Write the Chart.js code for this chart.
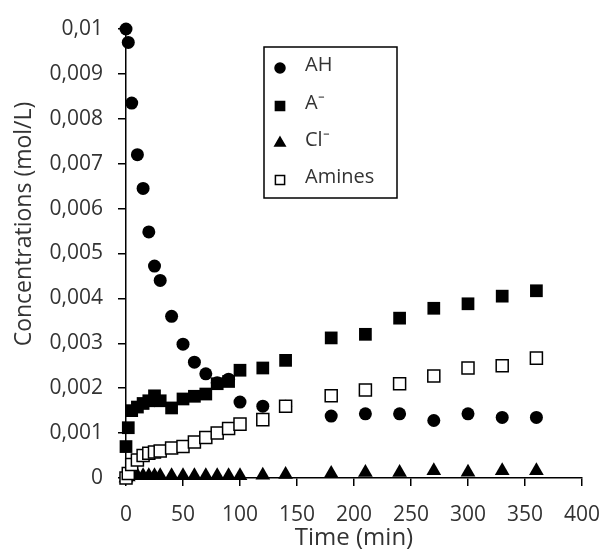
<!DOCTYPE html>
<html>
<head>
<meta charset="utf-8">
<script src="https://cdn.jsdelivr.net/npm/chart.js@4"></script>
<style>
  html, body { margin: 0; padding: 0; background: #fff; }
  #wrap { width: 602px; height: 550px; }
</style>
</head>
<body>
<div id="wrap"><canvas id="myChart" width="602" height="550"></canvas></div>
<script>
// sampling times (min)
const times = [0, 2, 5, 10, 15, 20, 25, 30, 40, 50, 60, 70, 80, 90, 100, 120, 140, 180, 210, 240, 270, 300, 330, 360];

// concentrations (mol/L)
const ahValues = [0.0100, 0.0097, 0.00835, 0.0072, 0.00645, 0.00548, 0.00472, 0.0044, 0.0036, 0.00298, 0.00258, 0.00232, 0.00212, 0.0022, 0.00169, 0.0016, 0.0016, 0.00138, 0.00143, 0.00143, 0.00128, 0.00143, 0.00135, 0.00135];
const aValues = [0.0007, 0.00112, 0.0015, 0.00158, 0.00166, 0.00172, 0.00183, 0.00172, 0.00156, 0.00176, 0.00182, 0.00187, 0.0021, 0.00215, 0.0024, 0.00245, 0.00262, 0.00312, 0.0032, 0.00356, 0.00378, 0.00388, 0.00405, 0.00417];
const clValues = [0, 0.00002, 0.00005, 0.00005, 0.00005, 0.00005, 0.00005, 0.00005, 0.00005, 0.00005, 0.00005, 0.00005, 0.00005, 0.00005, 0.00005, 0.00006, 0.00008, 0.0001, 0.00012, 0.00012, 0.00016, 0.00013, 0.00016, 0.00016];
const amineValues = [0, 0.0001, 0.0003, 0.0004, 0.0005, 0.00055, 0.00058, 0.0006, 0.00067, 0.0007, 0.0008, 0.0009, 0.001, 0.0011, 0.0012, 0.0013, 0.0016, 0.00183, 0.00196, 0.0021, 0.00227, 0.00245, 0.0025, 0.00267];

const seriesNames = ["AH", "A\u207B", "Cl\u207B", "Amines"];
const yTitle = "Concentrations (mol/L)";

const textColor = "#333";
const fontFamily = "'Open Sans', sans-serif";

const toPoints = (vals) => vals.map((v, i) => ({ x: times[i], y: v }));

// legend drawn inside the plot + y title (sits a bit above centre in the original)
const boxLegend = {
    id: "boxLegend",
    afterDraw(chart) {
        const ctx = chart.ctx;
        ctx.save();
        ctx.strokeStyle = "#000";
        ctx.lineWidth = 1.5;
        ctx.strokeRect(264, 47, 133, 151);
        const rows = [68, 106, 143, 180];
        const styles = [
            { pointStyle: "circle", radius: 5, fill: "#000" },
            { pointStyle: "rect", radius: 6.5, fill: "#000" },
            { pointStyle: "triangle", radius: 6, fill: "#000" },
            { pointStyle: "rect", radius: 6.5, fill: "#fff" }
        ];
        styles.forEach((s, i) => {
            ctx.fillStyle = s.fill;
            ctx.strokeStyle = "#000";
            ctx.lineWidth = 1.5;
            Chart.helpers.drawPoint(ctx, { pointStyle: s.pointStyle, radius: s.radius, rotation: 0, borderWidth: 1.5 }, 280, rows[i]);
            ctx.fillStyle = textColor;
            ctx.font = "20px " + fontFamily;
            ctx.textBaseline = "middle";
            ctx.textAlign = "left";
            ctx.fillText(seriesNames[i], 305, rows[i] - 3);
        });

        ctx.translate(24, 224);
        ctx.rotate(-Math.PI / 2);
        ctx.fillStyle = textColor;
        ctx.font = "23px " + fontFamily;
        ctx.textAlign = "center";
        ctx.textBaseline = "middle";
        ctx.fillText(yTitle, 0, 0);
        ctx.restore();
    }
};

new Chart("myChart", {
    type: "scatter",
    data: {
        datasets: [
            { label: seriesNames[0], data: toPoints(ahValues), pointStyle: "circle", pointRadius: 6.5, backgroundColor: "#000", borderColor: "#000", borderWidth: 0, order: 4, clip: false },
            { label: seriesNames[1], data: toPoints(aValues), pointStyle: "rect", pointRadius: 9, backgroundColor: "#000", borderColor: "#000", borderWidth: 0, order: 2, clip: false },
            { label: seriesNames[2], data: toPoints(clValues), pointStyle: "triangle", pointRadius: 8.5, backgroundColor: "#000", borderColor: "#000", borderWidth: 0, order: 3, clip: false },
            { label: seriesNames[3], data: toPoints(amineValues), pointStyle: "rect", pointRadius: 8.5, backgroundColor: "#fff", borderColor: "#000", borderWidth: 1.5, order: 1, clip: false }
        ]
    },
    options: {
        responsive: false,
        animation: false,
        layout: { padding: { left: 0, right: 20, top: 29, bottom: 0 } },
        plugins: {
            legend: { display: false },
            tooltip: { enabled: false }
        },
        scales: {
            x: {
                type: "linear",
                min: 0,
                max: 400,
                ticks: { stepSize: 50, color: textColor, font: { family: fontFamily, size: 21 }, padding: 16, maxRotation: 0 },
                grid: { drawOnChartArea: false, drawTicks: true, tickLength: 8, color: "#000", lineWidth: 1.5 },
                border: { color: "#000", width: 1.5 },
                title: { display: true, text: "Time (min)", color: textColor, font: { family: fontFamily, size: 24, lineHeight: 1.0 }, padding: { top: 0, bottom: 0 } },
                afterFit: (scale) => {
                    scale.height = 72;
                    scale.paddingLeft = 0;
                    scale.paddingRight = 0;
                }
            },
            y: {
                min: 0,
                max: 0.01,
                ticks: {
                    stepSize: 0.001,
                    color: textColor,
                    font: { family: fontFamily, size: 21 },
                    padding: 15,
                    callback: (v) => v === 0 ? "0" : parseFloat(v.toFixed(3)).toString().replace(".", ",")
                },
                grid: { drawOnChartArea: false, drawTicks: true, tickLength: 8, color: "#000", lineWidth: 1.5 },
                border: { color: "#000", width: 1.5 },
                title: { display: false },
                afterFit: (scale) => { scale.width = 126; }
            }
        }
    },
    plugins: [boxLegend]
});
</script>
</body>
</html>
